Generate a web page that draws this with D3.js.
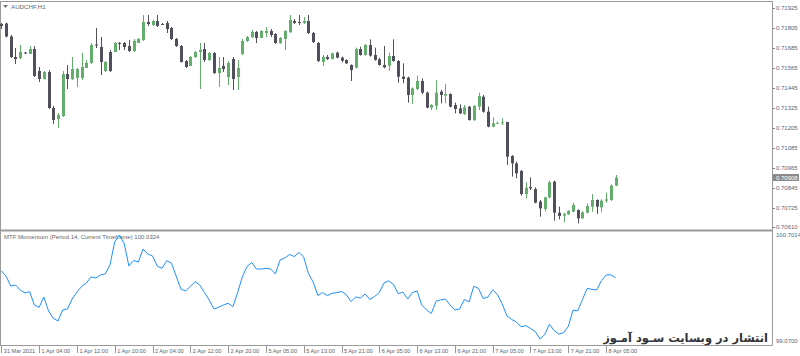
<!DOCTYPE html>
<html>
<head>
<meta charset="utf-8">
<script src="https://cdn.jsdelivr.net/npm/d3@7/dist/d3.min.js"></script>
<style>
body { margin: 0; background: #fff; }
svg text { font-family: "Liberation Sans", Arial, sans-serif; }
</style>
</head>
<body>
<div id="chart"></div>
<script>
// AUDCHF H1 candles, 31 Mar 2021 20:00 .. 8 Apr 2021 07:00
var opens = [0.71829,0.71832,0.71754,0.71631,0.71625,0.71658,0.71649,0.71679,0.71547,0.71499,
  0.71541,0.71325,0.71259,0.71277,0.71529,0.71499,0.71505,0.71505,0.71565,0.71595,
  0.71706,0.71691,0.71547,0.71661,0.71661,0.71715,0.71715,0.71697,0.71667,0.71715,
  0.71733,0.71841,0.71823,0.71847,0.71829,0.71835,0.71805,0.71739,0.71697,0.71607,
  0.71577,0.71631,0.71661,0.71679,0.71613,0.71655,0.71535,0.71577,0.71511,0.71619,
  0.71511,0.71649,0.71727,0.71751,0.71781,0.71745,0.71775,0.71787,0.71769,0.71715,
  0.71739,0.71781,0.71847,0.71841,0.71835,0.71847,0.71775,0.71715,0.71601,0.71631,
  0.71619,0.71657,0.71627,0.71613,0.71583,0.71567,0.71679,0.71643,0.71703,0.71643,
  0.71617,0.71583,0.71579,0.71637,0.71607,0.71513,0.71507,0.71403,0.71439,0.71487,
  0.71417,0.71327,0.71339,0.71423,0.71399,0.71409,0.71343,0.71323,0.71289,0.71333,
  0.71253,0.71333,0.71393,0.71303,0.71213,0.71235,0.71235,0.71241,0.71037,0.70993,
  0.70947,0.70809,0.70851,0.70839,0.70763,0.70719,0.70789,0.70883,0.70697,0.70679,
  0.70687,0.70703,0.70713,0.70663,0.70697,0.70733,0.70773,0.70729,0.70769,0.70773,
  0.70859];
var highs = [0.71835,0.71837,0.71763,0.71685,0.71703,0.71661,0.71697,0.71697,0.71571,0.71547,
  0.71553,0.71337,0.71295,0.71547,0.71583,0.71631,0.71565,0.71655,0.71613,0.71715,
  0.71805,0.71751,0.71607,0.71673,0.71721,0.71721,0.71721,0.71733,0.71739,0.71745,
  0.71883,0.71883,0.71853,0.71883,0.71835,0.71847,0.71811,0.71745,0.71703,0.71613,
  0.71637,0.71667,0.71715,0.71715,0.71661,0.71661,0.71631,0.71631,0.71607,0.71631,
  0.71613,0.71739,0.71757,0.71793,0.71787,0.71793,0.71811,0.71799,0.71775,0.71751,
  0.71793,0.71883,0.71859,0.71883,0.71871,0.71883,0.71781,0.71721,0.71643,0.71643,
  0.71657,0.71663,0.71633,0.71617,0.71587,0.71687,0.71693,0.71709,0.71737,0.71687,
  0.71627,0.71697,0.71657,0.71737,0.71613,0.71593,0.71513,0.71449,0.71519,0.71503,
  0.71423,0.71349,0.71493,0.71433,0.71469,0.71413,0.71357,0.71347,0.71343,0.71337,
  0.71343,0.71417,0.71403,0.71333,0.71269,0.71243,0.71263,0.71243,0.71043,0.71003,
  0.70953,0.70879,0.70909,0.70849,0.70773,0.70793,0.70889,0.70889,0.70733,0.70697,
  0.70713,0.70757,0.70717,0.70707,0.70753,0.70809,0.70777,0.70777,0.70817,0.70867,
  0.70923];
var lows = [0.71799,0.71749,0.71625,0.71589,0.71619,0.71649,0.71649,0.71511,0.71481,0.71496,
  0.71319,0.71229,0.71205,0.71271,0.71439,0.71493,0.71451,0.71493,0.71565,0.71589,
  0.71685,0.71523,0.71541,0.71541,0.71661,0.71673,0.71673,0.71661,0.71661,0.71715,
  0.71727,0.71817,0.71817,0.71811,0.71823,0.71775,0.71733,0.71691,0.71598,0.71565,
  0.71577,0.71625,0.71439,0.71601,0.71607,0.71529,0.71451,0.71541,0.71463,0.71433,
  0.71433,0.71643,0.71721,0.71745,0.71715,0.71745,0.71751,0.71751,0.71709,0.71709,
  0.71673,0.71775,0.71829,0.71823,0.71829,0.71769,0.71715,0.71601,0.71577,0.71613,
  0.71617,0.71623,0.71599,0.71589,0.71487,0.71563,0.71639,0.71639,0.71633,0.71609,
  0.71579,0.71563,0.71549,0.71603,0.71477,0.71473,0.71357,0.71349,0.71433,0.71409,
  0.71323,0.71313,0.71313,0.71353,0.71353,0.71329,0.71293,0.71289,0.71283,0.71249,
  0.71247,0.71313,0.71297,0.71209,0.71209,0.71231,0.71223,0.70983,0.70913,0.70903,
  0.70799,0.70783,0.70833,0.70753,0.70673,0.70703,0.70783,0.70649,0.70657,0.70639,
  0.70683,0.70699,0.70633,0.70659,0.70693,0.70703,0.70689,0.70699,0.70757,0.70767,
  0.70857];
var closes = [0.71817,0.71754,0.71631,0.71619,0.71661,0.71652,0.71679,0.71517,0.71499,0.71541,
  0.71325,0.71253,0.71283,0.71529,0.71499,0.71559,0.71559,0.71571,0.71595,0.71703,
  0.71700,0.71601,0.71601,0.71547,0.71715,0.71709,0.71691,0.71667,0.71727,0.71739,
  0.71841,0.71829,0.71847,0.71817,0.71826,0.71799,0.71739,0.71697,0.71601,0.71571,
  0.71631,0.71661,0.71673,0.71613,0.71655,0.71535,0.71565,0.71559,0.71595,0.71499,
  0.71565,0.71727,0.71751,0.71781,0.71745,0.71787,0.71787,0.71763,0.71715,0.71745,
  0.71787,0.71853,0.71835,0.71835,0.71847,0.71775,0.71721,0.71607,0.71631,0.71619,
  0.71653,0.71627,0.71609,0.71593,0.71553,0.71679,0.71643,0.71703,0.71639,0.71613,
  0.71583,0.71569,0.71637,0.71607,0.71513,0.71499,0.71403,0.71443,0.71487,0.71417,
  0.71327,0.71343,0.71417,0.71403,0.71409,0.71333,0.71319,0.71293,0.71329,0.71253,
  0.71337,0.71397,0.71303,0.71213,0.71233,0.71237,0.71239,0.71033,0.70993,0.70933,
  0.70809,0.70847,0.70843,0.70757,0.70723,0.70789,0.70879,0.70697,0.70677,0.70689,
  0.70707,0.70743,0.70663,0.70699,0.70737,0.70773,0.70733,0.70769,0.70777,0.70859,
  0.70908];

// MTF Momentum (14) per bar
var momentum = [100.141,100.058,99.901,99.917,99.839,99.792,99.812,99.603,99.567,99.729,
  99.509,99.395,99.352,99.525,99.541,99.697,99.807,99.894,99.948,100.043,
  100.027,100.074,100.090,100.231,100.592,100.7014,100.571,100.215,100.301,100.278,
  100.482,100.403,100.372,100.215,100.179,100.298,100.262,100.058,99.854,99.823,
  99.894,99.969,99.917,99.799,99.682,99.541,99.567,99.603,99.630,99.577,
  99.792,100.043,100.207,100.270,100.168,100.168,100.179,100.168,100.090,100.309,
  100.341,100.396,100.364,100.427,100.356,100.097,99.964,99.752,99.799,99.749,
  99.787,99.796,99.815,99.768,99.658,99.729,99.713,99.776,99.690,99.737,
  99.799,99.948,99.983,99.925,99.779,99.807,99.697,99.799,99.823,99.600,
  99.525,99.470,99.661,99.685,99.697,99.600,99.525,99.541,99.690,99.650,
  99.897,99.862,99.704,99.729,99.840,99.768,99.622,99.434,99.377,99.337,
  99.261,99.279,99.235,99.188,99.070,99.137,99.302,99.202,99.148,99.169,
  99.266,99.523,99.511,99.688,99.864,99.848,99.839,99.983,100.074,100.077,
  100.0324];

var timeLabels = ["31 Mar 2021","1 Apr 04:00","1 Apr 12:00","1 Apr 20:00","2 Apr 04:00",
  "2 Apr 12:00","2 Apr 20:00","5 Apr 05:00","5 Apr 13:00","5 Apr 21:00","6 Apr 05:00",
  "6 Apr 13:00","6 Apr 21:00","7 Apr 05:00","7 Apr 13:00","7 Apr 21:00","8 Apr 05:00"];
var labelEvery = 8;
var priceTicks = [0.71925,0.71805,0.71685,0.71565,0.71445,0.71325,0.71205,0.71085,
  0.70965,0.70845,0.70725,0.70610];
var momTicks = [100.7014, 99.0700];
var lastPrice = 0.70908;
var symbolTitle = "AUDCHF,H1";
var indicatorTitle = "MTF Momentum (Period 14, Current Timeframe) 100.0324";
var watermark = "انتشار در وبسایت سـود آمـوز";

var width = 800, height = 356;
var axisX = 772;
var paneBottom = 345;
var bullColor = "#63ad6d", bearColor = "#50505c";

var candles = opens.map(function(o, i) {
  return {i: i, o: o, h: highs[i], l: lows[i], c: closes[i]};
});

var svg = d3.select("#chart").append("svg")
  .attr("width", width)
  .attr("height", height);

svg.append("rect").attr("width", width).attr("height", height).attr("fill", "#fff");

/************* scales ***************/
var x = d3.scaleLinear().domain([0, opens.length - 1]).range([1.3, 1.3 + 4.725 * (opens.length - 1)]);
var yPrice = d3.scaleLinear().domain([0.70593, 0.71961]).range([230, 2]);
var yMom = d3.scaleLinear().domain([99.07, 100.7014]).range([339, 235]);

/************* frame ***************/
var frame = svg.append("g").attr("stroke", "#9a9a9a").attr("fill", "none");
frame.append("line").attr("x1", 0).attr("x2", axisX).attr("y1", 1.5).attr("y2", 1.5);
frame.append("line").attr("x1", 0.5).attr("x2", 0.5).attr("y1", 1.5).attr("y2", paneBottom);
frame.append("line").attr("x1", axisX + 0.5).attr("x2", axisX + 0.5).attr("y1", 1).attr("y2", paneBottom + 0.5);
frame.append("line").attr("x1", 0).attr("x2", axisX).attr("y1", 230.5).attr("y2", 230.5)
  .attr("stroke-width", 2);
frame.append("line").attr("x1", 0).attr("x2", axisX).attr("y1", paneBottom + 0.5).attr("y2", paneBottom + 0.5);

/************* candles ***************/
var cg = svg.append("g").attr("class", "candles");
var candle = cg.selectAll("g").data(candles).enter().append("g")
  .attr("fill", function(d) { return d.c >= d.o ? bullColor : bearColor; })
  .attr("stroke", function(d) { return d.c >= d.o ? bullColor : bearColor; });

candle.append("line")
  .attr("x1", function(d) { return Math.round(x(d.i)) + 0.5; })
  .attr("x2", function(d) { return Math.round(x(d.i)) + 0.5; })
  .attr("y1", function(d) { return yPrice(d.h); })
  .attr("y2", function(d) { return yPrice(d.l); })
  .attr("stroke-width", 1);

candle.append("rect")
  .attr("stroke", "none")
  .attr("x", function(d) { return Math.round(x(d.i)) - 1; })
  .attr("width", 3)
  .attr("y", function(d) { return yPrice(Math.max(d.o, d.c)); })
  .attr("height", function(d) { return Math.max(1, yPrice(Math.min(d.o, d.c)) - yPrice(Math.max(d.o, d.c))); });

/************* titles ***************/
svg.append("path").attr("d", "M3,5 L8,5 L5.5,8 Z").attr("fill", "#777");
svg.append("text").attr("x", 11).attr("y", 9).attr("font-size", 6.2).attr("fill", "#666")
  .text(symbolTitle);
svg.append("text").attr("x", 4).attr("y", 238.5).attr("font-size", 6).attr("fill", "#666")
  .text(indicatorTitle);

/************* price axis ***************/
var pa = svg.append("g");
pa.selectAll("line").data(priceTicks).enter().append("line")
  .attr("x1", axisX).attr("x2", axisX + 3)
  .attr("y1", function(d) { return Math.round(yPrice(d)) + 0.5; })
  .attr("y2", function(d) { return Math.round(yPrice(d)) + 0.5; })
  .attr("stroke", "#888");
pa.selectAll("text").data(priceTicks).enter().append("text")
  .attr("x", axisX + 4)
  .attr("y", function(d) { return yPrice(d) + 2.2; })
  .attr("font-size", 6)
  .attr("fill", "#5c6472")
  .text(function(d) { return d.toFixed(5); });

// current price tag
var tagY = yPrice(lastPrice);
svg.append("rect").attr("x", axisX + 1).attr("y", tagY - 3.5).attr("width", 26).attr("height", 7)
  .attr("fill", "#8a8a8a");
svg.append("text").attr("x", axisX + 4).attr("y", tagY + 2.2).attr("font-size", 6)
  .attr("fill", "#fff").text(lastPrice.toFixed(5));

/************* momentum ***************/
var line = d3.line()
  .x(function(d, i) { return x(i); })
  .y(function(d) { return yMom(d); });
svg.append("path").datum(momentum)
  .attr("d", line)
  .attr("fill", "none")
  .attr("stroke", "#1e90ff")
  .attr("stroke-width", 1);

svg.append("g").selectAll("text").data(momTicks).enter().append("text")
  .attr("x", axisX + 4)
  .attr("y", function(d, i) { return i == 0 ? 237 : 343; })
  .attr("font-size", 6)
  .attr("fill", "#5c6472")
  .text(function(d) { return d.toFixed(4); });

/************* time axis ***************/
var ta = svg.append("g");
var tickIdx = timeLabels.map(function(t, k) { return k * labelEvery; });
ta.selectAll("line").data(tickIdx).enter().append("line")
  .attr("x1", function(d) { return Math.round(x(d)) + 0.5; })
  .attr("x2", function(d) { return Math.round(x(d)) + 0.5; })
  .attr("y1", paneBottom + 1).attr("y2", paneBottom + 8)
  .attr("stroke", "#999");
ta.selectAll("text").data(tickIdx).enter().append("text")
  .attr("x", function(d) { return x(d) + 2.5; })
  .attr("y", 352.5)
  .attr("font-size", 5.6)
  .attr("fill", "#5c6472")
  .text(function(d, k) { return timeLabels[k]; });

/************* watermark ***************/
var wm = svg.append("text")
  .attr("x", 768).attr("y", 341.5)
  .attr("text-anchor", "end")
  .attr("font-weight", "bold")
  .attr("font-size", 14)
  .attr("fill", "#333")
  .style("font-family", "'DejaVu Sans', sans-serif")
  .text(watermark);
var wlen = wm.node().getComputedTextLength();
if (wlen > 0) wm.attr("font-size", Math.min(16, 14 * 165 / wlen));
</script>
</body>
</html>
